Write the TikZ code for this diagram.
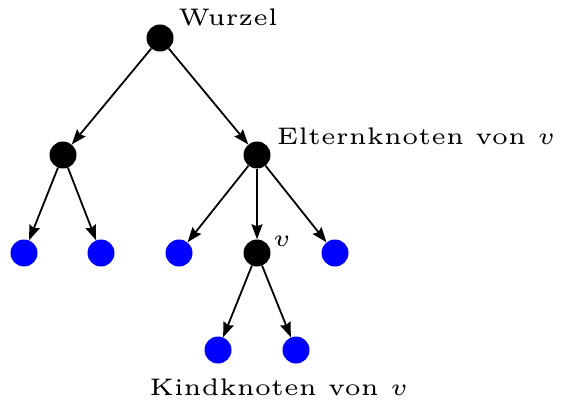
\documentclass[tikz,border=0pt]{standalone}
\usetikzlibrary{arrows.meta}
\begin{document}
\begin{tikzpicture}[x=1pt,y=-1pt,
  inner/.style={circle,fill=black,minimum size=27pt,inner sep=0pt},
  leaf/.style={circle,fill=blue,minimum size=27pt,inner sep=0pt},
  lbl/.style={inner sep=0pt,scale=4.8,font=\fontsize{5}{6}\selectfont},
  edge/.style={line width=1.8pt,-{Stealth[length=15pt,width=11pt,inset=2pt]}}]
\useasboundingbox (0,0) rectangle (561,403);
\node[inner] (r) at (160,38) {};
\node[inner] (a) at (63,155) {};
\node[inner] (b) at (257,155) {};
\node[leaf] (a1) at (24,253) {};
\node[leaf] (a2) at (101,253) {};
\node[leaf] (b1) at (179,253) {};
\node[inner] (v) at (257,253) {};
\node[leaf] (b3) at (335,253) {};
\node[leaf] (v1) at (218,350) {};
\node[leaf] (v2) at (296,350) {};
\draw[edge] (r) -- (a);
\draw[edge] (r) -- (b);
\draw[edge] (a) -- (a1);
\draw[edge] (a) -- (a2);
\draw[edge] (b) -- (b1);
\draw[edge] (b) -- (v);
\draw[edge] (b) -- (b3);
\draw[edge] (v) -- (v1);
\draw[edge] (v) -- (v2);
\node[lbl] (lw) at (228,17) {Wurzel};
\node[lbl,anchor=west] (le) at (276,136) {Elternknoten von $v$};
\node[lbl] (lv) at (282,241) {$v$};
\node[lbl] (lk) at (279,387) {Kindknoten von $v$};
\end{tikzpicture}
\end{document}
